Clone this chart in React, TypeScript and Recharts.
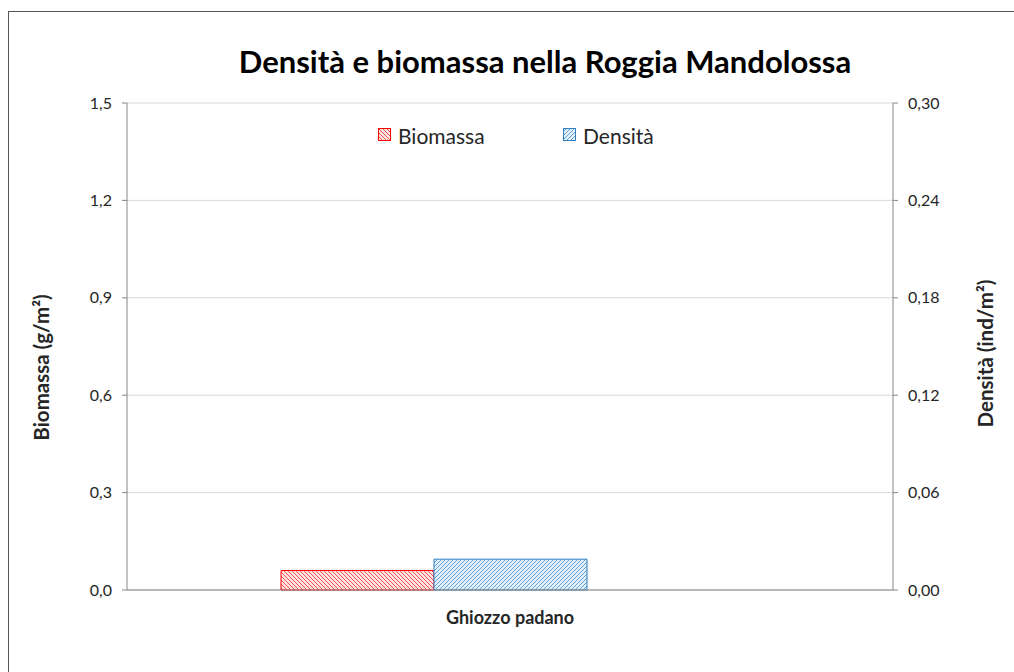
import React from "react";
import {
  ComposedChart,
  Bar,
  XAxis,
  YAxis,
  CartesianGrid,
  Label,
} from "recharts";

// Species sampled and the two measured quantities
const specie = ["Ghiozzo padano"];
const biomassa = [0.06]; // g/m²
const densita = [0.019]; // ind/m²

const biomassaTicks = [0, 0.3, 0.6, 0.9, 1.2, 1.5];
const densitaTicks = [0, 0.06, 0.12, 0.18, 0.24, 0.3];

const data = specie.map((s, i) => ({
  specie: s,
  biomassa: biomassa[i],
  densita: densita[i],
  vuoto: null as number | null,
}));

const FONT = "Lato, 'Open Sans', sans-serif";
const AXIS = "#868686";
const TEXT = "#262626";

const fmt1 = (v: number) => v.toFixed(1).replace(".", ",");
const fmt2 = (v: number) => v.toFixed(2).replace(".", ",");

function Patterns() {
  return (
    <svg width={0} height={0} style={{ position: "absolute" }}>
      <defs>
        <pattern id="hatchRed" patternUnits="userSpaceOnUse" width={4} height={4}>
          <rect width={4} height={4} fill="#FFE4E4" />
          <path d="M-1,-1 L5,5 M-1,3 L1,5 M3,-1 L5,1" stroke="#FF5050" strokeWidth={1} />
        </pattern>
        <pattern id="hatchBlue" patternUnits="userSpaceOnUse" width={4} height={4}>
          <rect width={4} height={4} fill="#E6F0FA" />
          <path d="M-1,5 L5,-1 M-1,1 L1,-1 M3,5 L5,3" stroke="#5A9EDA" strokeWidth={1} />
        </pattern>
      </defs>
    </svg>
  );
}

function AxisTitle(props: any) {
  const { viewBox, value, dxPos, dyPos } = props;
  if (!viewBox) return null;
  const x = viewBox.x + dxPos;
  const y = viewBox.y + viewBox.height / 2 + dyPos;
  return (
    <text
      x={x}
      y={y}
      transform={`rotate(-90, ${x}, ${y})`}
      textAnchor="middle"
      dominantBaseline="central"
      fontFamily={FONT}
      fontWeight={700}
      fontSize={20.5}
      fill={TEXT}
    >
      {value}
    </text>
  );
}

function LegendItem({ left, fill, stroke, label }: { left: number; fill: string; stroke: string; label: string }) {
  return (
    <div style={{ position: "absolute", left, top: 0, display: "flex", alignItems: "center", height: 24 }}>
      <svg width={14} height={14} style={{ marginRight: 6 }}>
        <rect x={0.5} y={0.5} width={12} height={12} fill={fill} stroke={stroke} />
      </svg>
      <span style={{ fontFamily: FONT, fontSize: 21, color: TEXT }}>{label}</span>
    </div>
  );
}

export default function App() {
  return (
    <div
      style={{
        position: "absolute",
        left: 8,
        top: 11,
        width: 1006,
        height: 661,
        borderTop: "1px solid #555",
        borderLeft: "1px solid #555",
        background: "#fff",
      }}
    >
      <Patterns />
      <div
        style={{
          position: "absolute",
          left: 0,
          width: 1072,
          top: 30,
          textAlign: "center",
          fontFamily: FONT,
          fontWeight: 700,
          fontSize: 31,
          color: "#000",
        }}
      >
        Densità e biomassa nella Roggia Mandolossa
      </div>
      <div style={{ position: "absolute", left: 0, top: 111, width: 1005, height: 24 }}>
        <LegendItem left={369} fill="url(#hatchRed)" stroke="#FF0000" label="Biomassa" />
        <LegendItem left={554} fill="url(#hatchBlue)" stroke="#2F7FC1" label="Densità" />
      </div>
      <ComposedChart
        width={1005}
        height={660}
        data={data}
        margin={{ top: 91, right: 0, bottom: 52, left: 0 }}
        barGap={0}
        barSize={153}
      >
        <CartesianGrid yAxisId="left" vertical={false} stroke="#D9D9D9" />
        <XAxis
          dataKey="specie"
          height={30}
          tickLine={false}
          axisLine={{ stroke: AXIS }}
          tickMargin={15}
          tick={{ fontFamily: FONT, fontSize: 18, fontWeight: 700, fill: TEXT }}
        />
        <YAxis
          yAxisId="left"
          orientation="left"
          width={118}
          domain={[0, 1.5]}
          ticks={biomassaTicks}
          tickFormatter={fmt1}
          axisLine={{ stroke: AXIS }}
          tickLine={{ stroke: AXIS }}
          tickSize={5}
          tickMargin={10}
          tick={{ fontFamily: FONT, fontSize: 16, fill: TEXT }}
        >
          <Label content={(p: any) => <AxisTitle {...p} value="Biomassa (g/m²)" dxPos={32} dyPos={21} />} />
        </YAxis>
        <YAxis
          yAxisId="right"
          orientation="right"
          width={121}
          domain={[0, 0.3]}
          ticks={densitaTicks}
          tickFormatter={fmt2}
          axisLine={{ stroke: AXIS }}
          tickLine={{ stroke: AXIS }}
          tickSize={5}
          tickMargin={10}
          tick={{ fontFamily: FONT, fontSize: 16, fill: TEXT }}
        >
          <Label content={(p: any) => <AxisTitle {...p} value="Densità (ind/m²)" dxPos={92} dyPos={7} />} />
        </YAxis>
        <Bar
          yAxisId="left"
          dataKey="biomassa"
          fill="url(#hatchRed)"
          stroke="#FF0000"
          strokeWidth={1}
          isAnimationActive={false}
        />
        <Bar
          yAxisId="right"
          dataKey="densita"
          fill="url(#hatchBlue)"
          stroke="#2F7FC1"
          strokeWidth={1}
          isAnimationActive={false}
        />
        <Bar yAxisId="right" dataKey="vuoto" fill="none" isAnimationActive={false} />
      </ComposedChart>
    </div>
  );
}
